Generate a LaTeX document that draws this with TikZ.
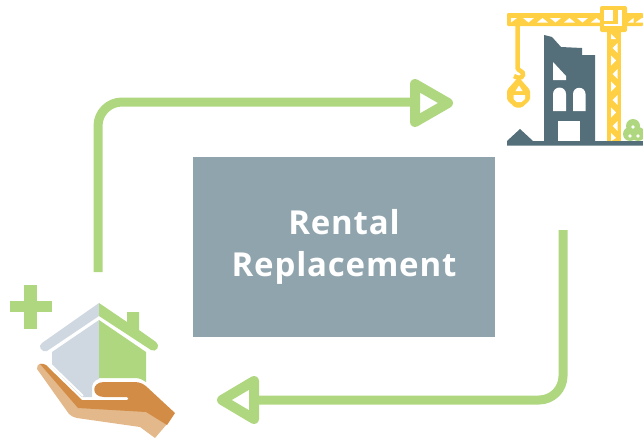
\documentclass[tikz,border=0pt]{standalone}
\usepackage{fontspec}
\setmainfont[LetterSpace=2.5]{Open Sans}
\definecolor{lgreen}{HTML}{AFD77F}
\definecolor{slatebox}{HTML}{90A4AD}
\definecolor{craneyellow}{HTML}{FFD044}
\definecolor{bldg}{HTML}{546E7A}
\definecolor{roofgrey}{HTML}{CFD8E0}
\definecolor{handdark}{HTML}{D38C46}
\definecolor{handlight}{HTML}{E3B98C}
\tikzset{
  flow/.style={draw=lgreen,line width=9pt,line join=miter},
  tiphead/.style={draw=lgreen,line width=10pt,fill=white,line join=round},
  win/.style={fill=white,draw=none},
  crane/.style={fill=craneyellow,draw=none}
}
\begin{document}
\begin{tikzpicture}[x=1pt,y=-1pt]
\useasboundingbox (0,0) rectangle (643,439);
% centre box
\node[fill=slatebox,minimum width=302pt,minimum height=180pt,inner sep=0pt,outer sep=0pt,align=center,text=white,font=\fontsize{33}{42.5}\selectfont\bfseries] (box) at (344,247) {Rental\\Replacement};
% connector coordinates
\coordinate (a1) at (98,272);
\coordinate (a2) at (420,102);
\coordinate (b1) at (563,230);
\coordinate (b2) at (250,400);
\draw[flow,rounded corners=24pt] (a1) -- (98,102) -- (a2);
\draw[flow,rounded corners=24pt] (b1) -- (563,400) -- (b2);
\draw[tiphead] (415,84) -- (448,103) -- (415,122) -- cycle;
\draw[tiphead] (254,381) -- (222,400) -- (254,419) -- cycle;
% plus
\fill[lgreen] (24,285) rectangle (37,329);
\fill[lgreen] (10,301) rectangle (52,312);
% house
\fill[roofgrey] (99,303) -- (99,316) -- (47,351) .. controls (42,353) and (37,346) .. (42,343) -- cycle;
\fill[lgreen] (99,303) -- (127,322) -- (127,312) -- (139,312) -- (139,330) -- (156,342) .. controls (161,346) and (156,353) .. (151,350) -- (99,316) -- cycle;
\fill[roofgrey] (99,320) -- (99,379) .. controls (94,380) and (92,384) .. (92,388) -- (92,397) -- (82,397) -- (52,367) -- (52,352) -- cycle;
\fill[lgreen] (99,320) -- (146,352) -- (146,382) .. controls (143,380) and (140,378) .. (135,378) -- (99,378) -- cycle;
% hand
\fill[handlight] (37,369) .. controls (37,363) and (41,363) .. (44,365) -- (78,405) -- (145,410) -- (167,424) -- (155,438) -- (140,427) -- (77,418) .. controls (73,417) and (71,416) .. (69,414) -- cycle;
\fill[handdark] (40,364) .. controls (42,363) and (44,364) .. (46,365) -- (82,400) -- (127,400) .. controls (129,400) and (129,397) .. (127,397) -- (104,397) .. controls (91,397) and (91,382) .. (104,382) -- (135,382) .. controls (141,382) and (145,385) .. (148,388) -- (175,413) -- (167,425) -- (146,412) -- (78,408) -- cycle;
% white stripe between the fingers and the house
\draw[white,line width=2pt] (48,362) -- (83,396);
% building
\fill[bldg] (544,35) -- (552,37) -- (561,47) -- (582,48) -- (582,55) -- (595,55) -- (595,142) -- (544,142) -- cycle;
\fill[bldg] (507,145.5) -- (507,141) -- (520,129) -- (533,141) -- (643,141) -- (643,145.5) -- cycle;
\fill[win] (553,62) -- (566,76) -- (566,80) -- (553,80) -- cycle;
\fill[win] (553,111) -- (553,94) arc[start angle=180,end angle=0,radius=6.5pt] -- (566,111) -- cycle;
\fill[win] (573,111) -- (573,94) arc[start angle=180,end angle=0,radius=6.25pt] -- (585.5,111) -- cycle;
\fill[win] (558,121) rectangle (580,141);
% crane tower
\fill[crane] (607,30) rectangle (621,141);
\foreach \y in {60.5,86.5,112.5}{
  \fill[white] (611,\y-5) -- (616,\y) -- (611,\y+5) -- cycle;
}
\fill[white] (611,34) -- (616,39) -- (611,39) -- cycle;
\fill[white] (611,133) -- (616,138) -- (611,141) -- cycle;
\foreach \y in {48,74,100,126}{
  \fill[white] (617.5,\y-5) -- (612.5,\y) -- (617.5,\y+5) -- cycle;
}
% jib
\fill[crane,rounded corners=1pt] (507,13) rectangle (643,26);
\fill[white] (511,18) -- (517,18) -- (511,22.5) -- cycle;
\foreach \x in {523,550,577}{
  \fill[white] (\x,18) -- (\x+11,18) -- (\x+5.5,22.5) -- cycle;
}
\foreach \x in {537,564,591}{
  \fill[white] (\x,22.5) -- (\x+5.5,18) -- (\x+11,22.5) -- cycle;
}
\fill[white] (628,22.5) -- (633.5,18) -- (633.5,22.5) -- cycle;
\fill[white] (635.5,22.5) -- (642,18) -- (643,18) -- (643,22.5) -- cycle;
% cab
\fill[crane,rounded corners=2pt] (600,6) rectangle (627,32);
\fill[white] (604,10) rectangle (613,21);
\fill[white] (618,10) rectangle (622,26);
\fill[white] (604,23.5) rectangle (622,26);
% hook
\draw[craneyellow,line width=4.5pt] (517.5,26) -- (517.5,68) .. controls (518,71) and (524,71) .. (523,75) .. controls (522,79) and (517,78) .. (514,76);
% load
\fill[crane,rounded corners=1.5pt] (518.5,77) -- (530,90) -- (530,100) -- (522,107.5) -- (515,107.5) -- (507,100) -- (507,90) -- cycle;
\fill[white] (515.5,91) -- (519,85.5) -- (522.5,91) -- cycle;
\fill[white] (513.5,95) -- (525,95) -- (525,99) -- (521.5,102) -- (516.5,102) -- (513.5,99) -- cycle;
% bush
\fill[lgreen] (633,126) circle[radius=7pt];
\fill[lgreen] (630,134) circle[radius=7pt];
\fill[lgreen] (638,134) circle[radius=7pt];
\fill[white] (633,127) circle[radius=1.8pt];
\fill[white] (630,136) circle[radius=1.8pt];
\fill[white] (638,136) circle[radius=1.8pt];
\end{tikzpicture}
\end{document}
